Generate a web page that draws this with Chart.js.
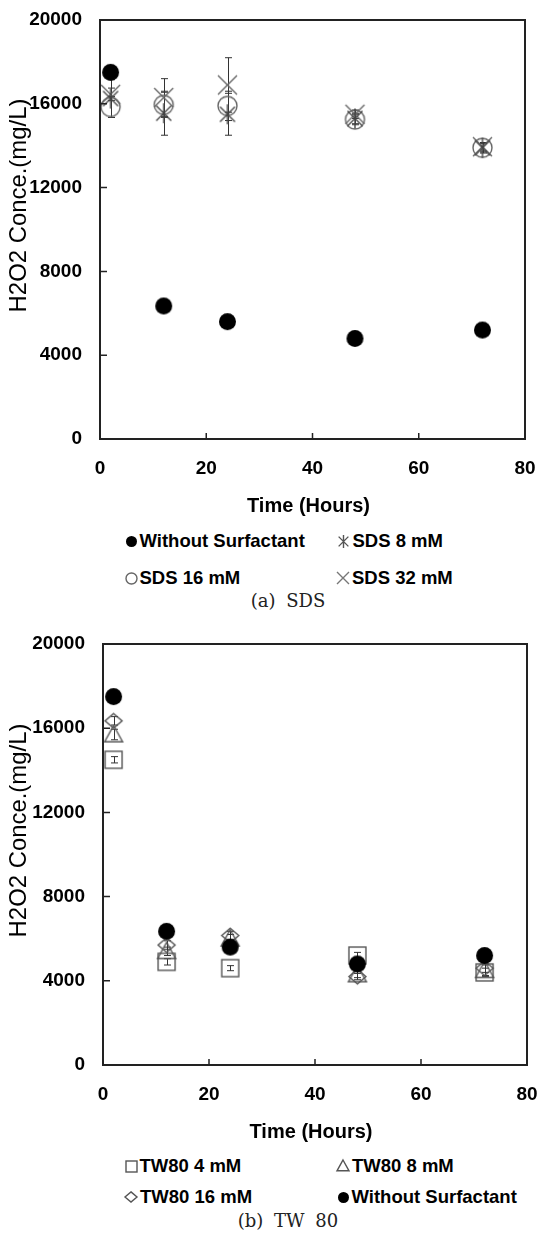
<!DOCTYPE html>
<html>
<head>
<meta charset="utf-8">
<script src="https://cdn.jsdelivr.net/npm/chart.js@4.4.1/dist/chart.umd.min.js"></script>
<style>
  body { margin: 0; background: #fff; width: 538px; height: 1235px; position: relative; overflow: hidden; }
  canvas.chart { position: absolute; left: 0; }
  .item { position: absolute; height: 24px; display: flex; align-items: center; white-space: nowrap;
          font: bold 18.5px "Liberation Sans", Arial, sans-serif; color: #000; }
  .item canvas { margin-right: 1px; }
  .cap { position: absolute; left: 188px; width: 200px; text-align: center; line-height: 24px;
         font: 18px "DejaVu Serif", "Liberation Serif", serif; word-spacing: 5px; color: #222; }
</style>
</head>
<body>
<canvas id="sds" class="chart" width="538" height="520" style="top:0"></canvas>
<canvas id="tw" class="chart" width="538" height="520" style="top:624px"></canvas>
<div class="cap" style="top:590px">(a) SDS</div>
<div class="cap" style="top:1210px">(b) TW 80</div>

<script>
const hours = [2, 12, 24, 48, 72];
const xTicks = [0, 20, 40, 60, 80];
const yTicks = [0, 4000, 8000, 12000, 16000, 20000];

// (a) SDS
const without = [17500, 6350, 5600, 4800, 5200];
const sds8 = [16250, 15550, 15500, 15300, 13900];
const sds8Err = [900, 1050, 1000, 250, 200];
const sds16 = [15850, 15950, 15900, 15250, 13900];
const sds16Err = [500, 600, 700, 250, 250];
const sds32 = [16450, 16300, 16900, 15500, 13950];
const sds32Err = [300, 900, 1300, 200, 200];

// (b) TW 80
const tw4 = [14500, 4900, 4600, 5200, 4400];
const tw4Err = [150, 150, 120, 150, 200];
const tw8 = [15700, 5400, 6000, 4300, 4500];
const tw8Err = [250, 200, 200, 150, 250];
const tw16 = [16350, 5700, 6150, 4200, 4600];
const tw16Err = [200, 200, 200, 150, 200];

function marker(shape, r, color) {
  const c = document.createElement('canvas');
  const s = Math.ceil(r * 2 + 4);
  c.width = c.height = s;
  const g = c.getContext('2d');
  const m = s / 2;
  g.strokeStyle = color;
  g.fillStyle = color;
  g.lineWidth = 1.4;
  g.beginPath();
  if (shape === 'dot') {
    g.arc(m, m, r, 0, Math.PI * 2);
    g.fill();
  } else if (shape === 'ring') {
    g.arc(m, m, r, 0, Math.PI * 2);
    g.stroke();
  } else if (shape === 'cross') {
    g.moveTo(m - r, m - r); g.lineTo(m + r, m + r);
    g.moveTo(m + r, m - r); g.lineTo(m - r, m + r);
    g.stroke();
  } else if (shape === 'star') {
    const d = r * 0.75;
    g.moveTo(m - d, m - d); g.lineTo(m + d, m + d);
    g.moveTo(m + d, m - d); g.lineTo(m - d, m + d);
    g.moveTo(m, m - r); g.lineTo(m, m + r);
    g.stroke();
  } else if (shape === 'square') {
    g.strokeRect(m - r, m - r, r * 2, r * 2);
  } else if (shape === 'tri') {
    g.moveTo(m, m - r); g.lineTo(m + r, m + r * 0.8); g.lineTo(m - r, m + r * 0.8); g.closePath();
    g.stroke();
  } else if (shape === 'diamond') {
    g.moveTo(m, m - r * 0.85); g.lineTo(m + r, m); g.lineTo(m, m + r * 0.85); g.lineTo(m - r, m); g.closePath();
    g.stroke();
  }
  return c;
}

function series(label, values, err, shape, r, color) {
  return {
    label: label,
    data: hours.map((h, i) => ({ x: h, y: values[i] })),
    err: err,
    pointStyle: marker(shape, r, color),
    pointRadius: r,
    showLine: false,
    clip: false
  };
}

const errorBars = {
  id: 'errorBars',
  beforeDatasetsDraw(chart) {
    const { ctx, scales: { x, y } } = chart;
    ctx.save();
    ctx.strokeStyle = '#333';
    ctx.lineWidth = 1;
    chart.data.datasets.forEach(d => {
      if (!d.err) return;
      d.data.forEach((p, i) => {
        const px = Math.round(x.getPixelForValue(p.x)) + 0.5;
        const top = y.getPixelForValue(p.y + d.err[i]);
        const bot = y.getPixelForValue(p.y - d.err[i]);
        ctx.beginPath();
        ctx.moveTo(px, top); ctx.lineTo(px, bot);
        ctx.moveTo(px - 3.5, top); ctx.lineTo(px + 3.5, top);
        ctx.moveTo(px - 3.5, bot); ctx.lineTo(px + 3.5, bot);
        ctx.stroke();
      });
    });
    ctx.restore();
  }
};

// box, inner tick marks and axis titles
const frameAndTitles = {
  id: 'frameAndTitles',
  afterDraw(chart, args, o) {
    const { ctx, chartArea: a, scales: { x, y } } = chart;
    ctx.save();
    ctx.strokeStyle = '#222';
    ctx.lineWidth = 2;
    ctx.strokeRect(a.left, a.top, a.right - a.left, a.bottom - a.top);
    ctx.lineWidth = 1.5;
    ctx.beginPath();
    xTicks.forEach(v => {
      const px = x.getPixelForValue(v);
      ctx.moveTo(px, a.bottom); ctx.lineTo(px, a.bottom - 6);
    });
    yTicks.forEach(v => {
      const py = y.getPixelForValue(v);
      ctx.moveTo(a.left, py); ctx.lineTo(a.left + 7, py);
    });
    ctx.stroke();
    ctx.fillStyle = '#000';
    ctx.textAlign = 'center';
    ctx.textBaseline = 'middle';
    ctx.font = 'bold 20px "Liberation Sans", Arial, sans-serif';
    ctx.fillText(o.x, (a.left + a.right) / 2 - 4, a.bottom + 67);
    ctx.translate(19, (a.top + a.bottom) / 2 - 24);
    ctx.rotate(-Math.PI / 2);
    // fit the vertical title to the length it has in the figure
    ctx.font = '22px "Liberation Sans", Arial, sans-serif';
    const w = ctx.measureText(o.y).width;
    const size = w > 0 ? Math.min(24, 22 * 214 / w) : 21;
    ctx.font = size.toFixed(1) + 'px "Liberation Sans", Arial, sans-serif';
    ctx.fillText(o.y, 0, 0);
    ctx.restore();
  }
};

function makeChart(id, datasets, axisLeft, axisBottom, padRight) {
  const canvas = document.getElementById(id);
  const tickFont = { family: '"Liberation Sans", Arial, sans-serif', size: 19, weight: 'bold' };
  return new Chart(canvas, {
    type: 'scatter',
    data: { datasets: datasets },
    plugins: [errorBars, frameAndTitles],
    options: {
      responsive: false,
      animation: false,
      devicePixelRatio: 1,
      layout: { padding: { top: 20, right: padRight, left: 0, bottom: 0 } },
      plugins: {
        legend: { display: false },
        tooltip: { enabled: false },
        frameAndTitles: { x: 'Time (Hours)', y: 'H2O2 Conce.(mg/L)' }
      },
      scales: {
        x: {
          type: 'linear', min: 0, max: 80,
          afterBuildTicks: s => { s.ticks = xTicks.map(v => ({ value: v })); },
          afterFit: s => { s.height = canvas.height - axisBottom; s.paddingLeft = 0; s.paddingRight = 0; },
          grid: { display: false, drawTicks: false },
          border: { display: false },
          ticks: { font: tickFont, color: '#000', padding: 18, maxRotation: 0, callback: v => String(v) }
        },
        y: {
          type: 'linear', min: 0, max: 20000,
          afterBuildTicks: s => { s.ticks = yTicks.map(v => ({ value: v })); },
          afterFit: s => { s.width = axisLeft; s.paddingTop = 0; s.paddingBottom = 0; },
          grid: { display: false, drawTicks: false },
          border: { display: false },
          ticks: { font: tickFont, color: '#000', padding: 18, callback: v => String(v) }
        }
      }
    }
  });
}

makeChart('sds', [
  series('Without Surfactant', without, null, 'dot', 8.5, '#000'),
  series('SDS 8 mM', sds8, sds8Err, 'star', 10, '#444'),
  series('SDS 16 mM', sds16, sds16Err, 'ring', 9.5, '#666'),
  series('SDS 32 mM', sds32, sds32Err, 'cross', 9.5, '#666')
], 100, 439, 13);

makeChart('tw', [
  series('Without Surfactant', without, null, 'dot', 8.5, '#000'),
  series('TW80 16 mM', tw16, tw16Err, 'diamond', 8.5, '#555'),
  series('TW80 8 mM', tw8, tw8Err, 'tri', 9, '#555'),
  series('TW80 4 mM', tw4, tw4Err, 'square', 8.5, '#555')
], 103, 441, 11);

function legendItem(shape, r, color, label, cx, cy) {
  const el = document.createElement('div');
  el.className = 'item';
  const m = marker(shape, r, color);
  el.appendChild(m);
  el.appendChild(document.createTextNode(label));
  el.style.left = (cx - m.width / 2) + 'px';
  el.style.top = (cy - 12) + 'px';
  document.body.appendChild(el);
}

legendItem('dot', 5.5, '#000', 'Without Surfactant', 131, 541);
legendItem('star', 6.5, '#555', 'SDS 8 mM', 343, 541);
legendItem('ring', 5.5, '#666', 'SDS 16 mM', 131, 578);
legendItem('cross', 6, '#777', 'SDS 32 mM', 343, 578);

legendItem('square', 5.5, '#555', 'TW80 4 mM', 131, 1166);
legendItem('tri', 6, '#555', 'TW80 8 mM', 343, 1166);
legendItem('diamond', 6, '#555', 'TW80 16 mM', 131, 1197);
legendItem('dot', 5.5, '#000', 'Without Surfactant', 343, 1197);
</script>
</body>
</html>
